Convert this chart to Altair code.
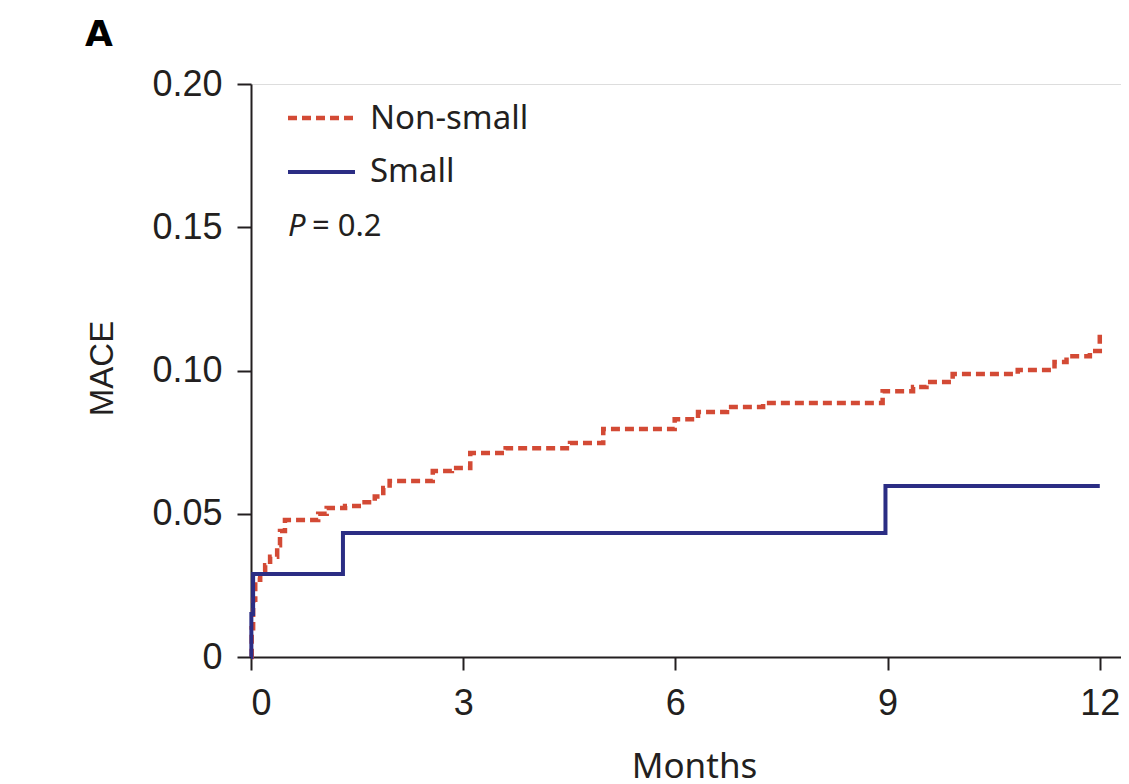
import altair as alt
import pandas as pd

# Kaplan-Meier style cumulative MACE (months, cumulative incidence)
nonsmall_t = [0, 0.01, 0.03, 0.06, 0.13, 0.20, 0.27, 0.37, 0.41, 0.48, 0.95, 1.07,
              1.33, 1.57, 1.75, 1.87, 1.96, 2.57, 2.84, 3.10, 3.60, 4.51, 4.98,
              5.99, 6.32, 6.73, 7.24, 8.93, 9.36, 9.55, 9.92, 10.84, 11.36, 11.53,
              11.86, 12.0, 12.0]
nonsmall_v = [0, 0.010, 0.020, 0.027, 0.030, 0.032, 0.035, 0.039, 0.044, 0.0478,
              0.050, 0.052, 0.0527, 0.054, 0.056, 0.059, 0.0614, 0.0649, 0.066,
              0.0712, 0.0729, 0.0747, 0.0796, 0.083, 0.0855, 0.0873, 0.0887,
              0.0928, 0.0942, 0.096, 0.0988, 0.1002, 0.103, 0.105, 0.1068, 0.108,
              0.113]
small_t = [0, 0.005, 0.03, 1.30, 8.97, 12.0]
small_v = [0, 0.015, 0.029, 0.0433, 0.0597, 0.0597]

x_ticks = [0, 3, 6, 9, 12]
y_ticks = [0, 0.05, 0.10, 0.15, 0.20]

RED = "#d34a35"
BLUE = "#2b2d84"
AX = "#231f20"

df_ns = pd.DataFrame({"t": nonsmall_t, "v": nonsmall_v, "i": range(len(nonsmall_t))})
df_s = pd.DataFrame({"t": small_t, "v": small_v, "i": range(len(small_t))})

xs = alt.Scale(domain=[0, 12.3], nice=False, zero=False)
ys = alt.Scale(domain=[0, 0.2], nice=False)

x_axis = alt.Axis(values=x_ticks, format="d", title="Months", grid=False, tickSize=13,
                  labelPadding=16, labelFont="Liberation Sans", labelFontSize=36,
                  labelColor=AX, domainColor=AX, tickColor=AX, domainWidth=2,
                  tickWidth=2, labelOverlap=False, labelBound=False,
                  titleFont="Noto Sans", titleFontSize=35,
                  titleFontWeight="normal", titleColor=AX, titleX=443, titleY=120,
                  titleBaseline="alphabetic", titleAlign="center")
y_axis = alt.Axis(values=y_ticks, title="MACE", grid=False, tickSize=14,
                  labelPadding=15, labelFont="Liberation Sans", labelFontSize=36,
                  labelColor=AX, domainColor=AX, tickColor=AX, domainWidth=2,
                  tickWidth=2,
                  labelExpr="datum.value == 0 ? '0' : format(datum.value, '.2f')",
                  titleFont="Liberation Sans", titleFontSize=33,
                  titleFontWeight="normal", titleColor=AX, titleAngle=-90,
                  titleX=-139, titleY=284, titleBaseline="alphabetic",
                  titleAlign="center")

ns_line = alt.Chart(df_ns).mark_line(
    interpolate="step-after", color=RED, strokeWidth=4.5, strokeDash=[9, 5]
).encode(
    x=alt.X("t:Q", scale=xs, axis=x_axis),
    y=alt.Y("v:Q", scale=ys, axis=y_axis),
    order="i:Q",
)
s_line = alt.Chart(df_s).mark_line(
    interpolate="step-after", color=BLUE, strokeWidth=4
).encode(
    x=alt.X("t:Q", scale=xs),
    y=alt.Y("v:Q", scale=ys),
    order="i:Q",
)

one = pd.DataFrame({"a": [0]})
leg_red = alt.Chart(one).mark_rule(color=RED, strokeWidth=4.5, strokeDash=[9, 5]).encode(
    x=alt.value(37), x2=alt.value(104), y=alt.value(34))
leg_blue = alt.Chart(one).mark_rule(color=BLUE, strokeWidth=4).encode(
    x=alt.value(37), x2=alt.value(104), y=alt.value(88))
txt_ns = alt.Chart(one).mark_text(text="Non-small", font="Noto Sans", fontSize=33,
                                  align="left", baseline="alphabetic", color=AX).encode(
    x=alt.value(119), y=alt.value(45))
txt_s = alt.Chart(one).mark_text(text="Small", font="Noto Sans", fontSize=33,
                                 align="left", baseline="alphabetic", color=AX).encode(
    x=alt.value(119), y=alt.value(98))
txt_p = alt.Chart(one).mark_text(text="P", font="Noto Sans", fontSize=31,
                                 fontStyle="italic", align="left",
                                 baseline="alphabetic", color=AX).encode(
    x=alt.value(37), y=alt.value(152))
txt_pv = alt.Chart(one).mark_text(text="= 0.2", font="Noto Sans", fontSize=31,
                                  align="left", baseline="alphabetic", color=AX).encode(
    x=alt.value(61), y=alt.value(152))
txt_a = alt.Chart(one).mark_text(text="A", font="DejaVu Sans", fontSize=36,
                                 fontWeight="bold", align="left",
                                 baseline="alphabetic", color="#000000").encode(
    x=alt.value(-166), y=alt.value(-38))

chart = alt.layer(
    ns_line, s_line, leg_red, leg_blue, txt_ns, txt_s, txt_p, txt_pv, txt_a
).properties(
    width=870, height=573,
    autosize=alt.AutoSizeParams(type="none"),
    padding={"left": 243, "top": 76, "right": 0, "bottom": 130},
).configure_view(stroke=None).configure(background="white")

chart.save("out.html", embed_options={"renderer": "svg", "actions": False})
